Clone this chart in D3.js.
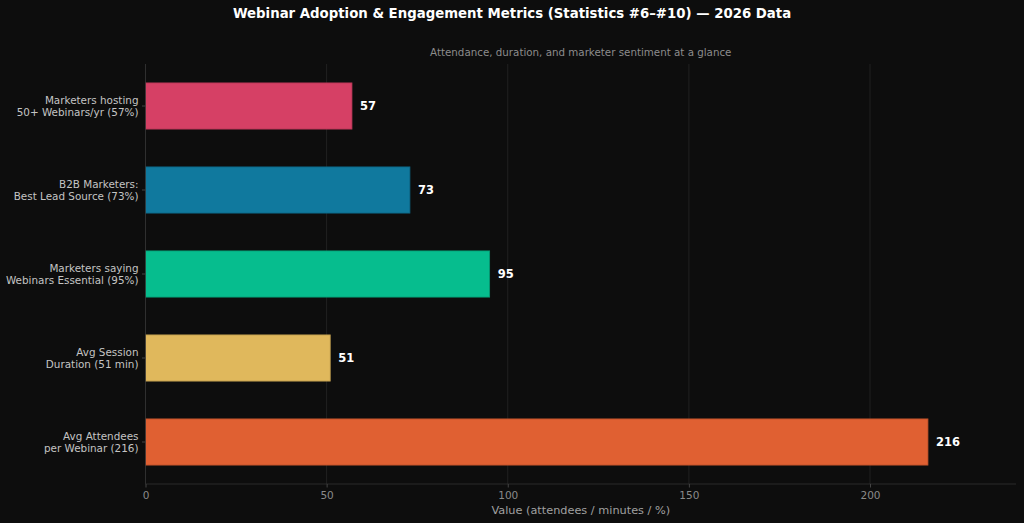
<!DOCTYPE html>
<html><head><meta charset="utf-8">
<script src="https://cdn.jsdelivr.net/npm/d3@7"></script>
<style>body{margin:0;background:#0d0d0d;}svg{display:block;font-family:"DejaVu Sans",sans-serif;}</style>
</head><body>
<svg id="c" width="1024" height="523"></svg>
<script>
const labels = [
  ["Marketers hosting", "50+ Webinars/yr (57%)"],
  ["B2B Marketers:", "Best Lead Source (73%)"],
  ["Marketers saying", "Webinars Essential (95%)"],
  ["Avg Session", "Duration (51 min)"],
  ["Avg Attendees", "per Webinar (216)"]
];
const values = [57, 73, 95, 51, 216];
const colors = ["#d64065", "#10799e", "#06bd8e", "#e0b85c", "#e06032"];
const xTicks = [0, 50, 100, 150, 200];

const svg = d3.select("#c");
svg.append("rect").attr("width",1024).attr("height",523).attr("fill","#0d0d0d");
const L = 145.5, R = 1016, T = 64, B = 484;
const x = d3.scaleLinear().domain([0, 240.3]).range([L, R]);
const y = d3.scaleBand().domain(d3.range(values.length)).range([T, B]).paddingInner(0.45).paddingOuter(0.225);

// grid
svg.append("g").selectAll("line").data(xTicks).join("line")
  .attr("x1", d=>x(d)).attr("x2", d=>x(d)).attr("y1", T).attr("y2", B)
  .attr("stroke", "#262626").attr("stroke-width", 0.8);

// bars
svg.append("g").selectAll("rect").data(values).join("rect")
  .attr("x", x(0)).attr("y", (d,i)=>y(i)).attr("width", d=>x(d)-x(0)).attr("height", y.bandwidth())
  .attr("fill", (d,i)=>colors[i])
  .attr("stroke", (d,i)=>d3.color(colors[i]).darker(0.6)).attr("stroke-width", 0.8);

// value labels
svg.append("g").selectAll("text").data(values).join("text")
  .attr("x", d=>x(d)+8).attr("y", (d,i)=>y(i)+y.bandwidth()/2).attr("dy","0.35em")
  .attr("fill","#ffffff").attr("font-size",11.5).attr("font-weight","bold").text(d=>d);

// spines
svg.append("line").attr("x1",L).attr("x2",L).attr("y1",T).attr("y2",B).attr("stroke","#333").attr("stroke-width",0.8);
svg.append("line").attr("x1",L).attr("x2",R).attr("y1",B).attr("y2",B).attr("stroke","#333").attr("stroke-width",0.8);

// x axis
const xa = svg.append("g").attr("transform",`translate(0,${B})`)
  .call(d3.axisBottom(x).tickValues(xTicks).tickSize(3.5).tickPadding(4));
xa.select(".domain").remove();
xa.selectAll("line").attr("stroke","#444");
xa.selectAll("text").attr("fill","#8a8a8a").attr("font-size",10.5).attr("font-family","DejaVu Sans");

// y axis labels
const yl = svg.append("g");
labels.forEach((lab,i)=>{
  const cy = y(i)+y.bandwidth()/2;
  yl.append("line").attr("x1",L-3.5).attr("x2",L).attr("y1",cy).attr("y2",cy).attr("stroke","#444");
  const t = yl.append("text").attr("x",L-7).attr("y",cy).attr("text-anchor","end")
    .attr("fill","#c4c4c4").attr("font-size",10.4);
  t.append("tspan").attr("x",L-7).attr("y",cy-2.2).text(lab[0]);
  t.append("tspan").attr("x",L-7).attr("y",cy+9.5).text(lab[1]);
});

// titles
svg.append("text").attr("x",512).attr("y",18).attr("text-anchor","middle")
  .attr("fill","#ffffff").attr("font-size",13.3).attr("font-weight","bold")
  .text("Webinar Adoption & Engagement Metrics (Statistics #6–#10) — 2026 Data");
svg.append("text").attr("x",(L+R)/2).attr("y",56).attr("text-anchor","middle")
  .attr("fill","#8c8c8c").attr("font-size",10.3).text("Attendance, duration, and marketer sentiment at a glance");
svg.append("text").attr("x",(L+R)/2).attr("y",514).attr("text-anchor","middle")
  .attr("fill","#a0a0a0").attr("font-size",11.3).text("Value (attendees / minutes / %)");
</script>
</body></html>
